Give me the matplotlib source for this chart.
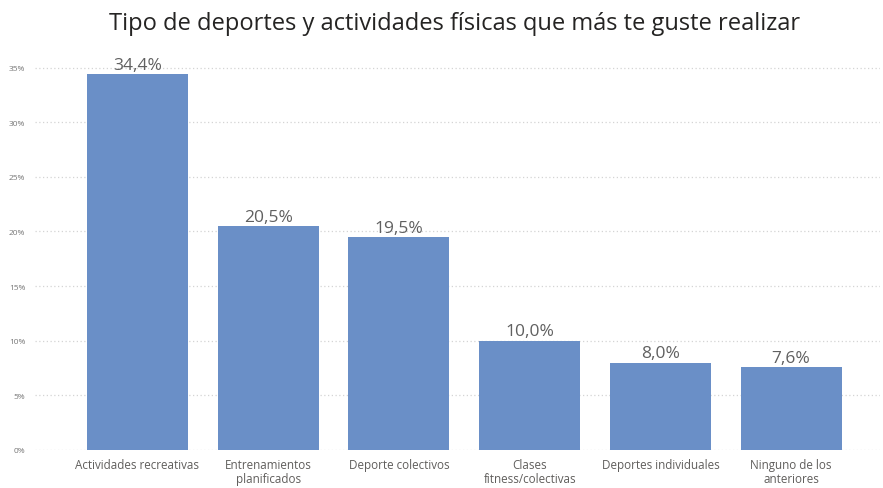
import matplotlib
matplotlib.use("Agg")
import matplotlib.pyplot as plt
from matplotlib.ticker import FuncFormatter

categories = ["Actividades recreativas", "Entrenamientos\nplanificados", "Deporte colectivos",
              "Clases\nfitness/colectivas", "Deportes individuales", "Ninguno de los\nanteriores"]
values = [34.4, 20.5, 19.5, 10.0, 8.0, 7.6]
yticks = [0, 5, 10, 15, 20, 25, 30, 35]
title = "Tipo de deportes y actividades físicas que más te guste realizar"

W, H = 883, 489
fig = plt.figure(figsize=(W/100, H/100), dpi=100)
left, right = 35, 880
y0, ytop = 451, 62
ax = fig.add_axes([left/W, 1 - y0/H, (right-left)/W, (y0-ytop)/H])

x = list(range(len(categories)))
ax.bar(x, values, width=0.773, color="#6A8FC7", zorder=3)
ax.set_xlim(-0.784, 5.68)
ax.set_ylim(0, 35.6)
ax.set_yticks(yticks)
ax.yaxis.set_major_formatter(FuncFormatter(lambda v, p: f"{int(v)}%"))
ax.grid(axis="y", color="#D4D4D4", linestyle=(0, (1, 2)), linewidth=0.9, zorder=0)
for s in ax.spines.values():
    s.set_visible(False)
ax.tick_params(axis="y", length=0, labelsize=6, labelcolor="#777777", pad=7)
ax.tick_params(axis="x", length=0, labelsize=8.4, labelcolor="#605E5C", pad=6)
ax.set_xticks(x)
ax.set_xticklabels(categories, family="Open Sans", linespacing=1.1)
for lbl in ax.get_yticklabels():
    lbl.set_family("Open Sans")

for xi, v in zip(x, values):
    ax.annotate(f"{v:.1f}%".replace(".", ","), (xi, v), xytext=(0, 1), textcoords="offset points",
                ha="center", va="bottom", fontsize=12.5, color="#606060", family="Open Sans")

fig.text(0.515, 1 - 24/H, title, ha="center", va="center", fontsize=17, color="#252423",
         family="Open Sans")
fig.savefig("out.png", dpi=100)
